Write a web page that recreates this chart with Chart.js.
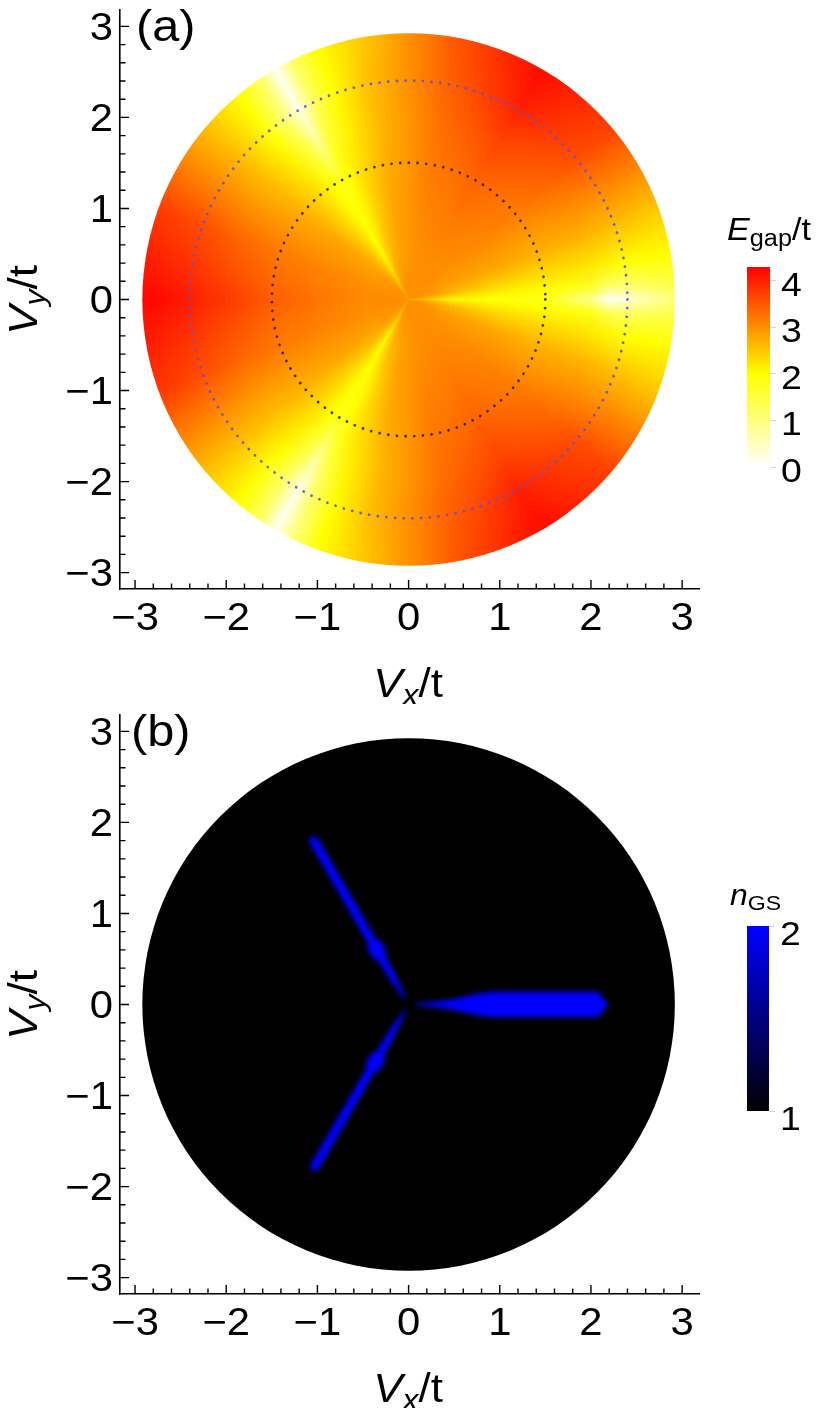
<!DOCTYPE html>
<html>
<head>
<meta charset="utf-8">
<script src="https://cdn.jsdelivr.net/npm/chart.js@4.4.1/dist/chart.umd.min.js"></script>
<style>
  html, body { margin: 0; padding: 0; background: #fff; }
  #page { position: relative; width: 830px; height: 1408px; overflow: hidden; }
  canvas { position: absolute; }
</style>
</head>
<body>
<div id="page">
  <canvas id="gapChart" width="830" height="704" style="left:0;top:0"></canvas>
  <canvas id="gapBar" width="130" height="290" style="left:700px;top:200px"></canvas>
  <canvas id="nChart" width="830" height="704" style="left:0;top:705px"></canvas>
  <canvas id="nBar" width="130" height="260" style="left:700px;top:870px"></canvas>
</div>
<script>
// 축 범위와 눈금
const axisTicks = [-3, -2, -1, 0, 1, 2, 3];
const xRange = [-3.165, 3.185];
const yRange = [-3.18, 3.18];
const minorStep = 0.2;
const diskRadius = 2.92;

// (a) 점선 원 반지름
const innerCircleRadius = 1.5;
const outerCircleRadius = 2.4;

// (a) E_gap/t 샘플 (각도는 도, +x축에서 반시계)
const gapAngles = [0, 4, 10, 20, 40, 60, 80, 100, 110, 116, 120, 124, 130, 140, 160, 180, 200, 220, 230, 236, 240, 244, 250, 260, 280, 300, 320, 340, 350, 356];
const gapRadii = [0.1, 0.5, 1.0, 1.5, 2.0, 2.2, 2.4, 2.85];
const gapR0_1 = [2.6, 2.85, 2.95, 3.0, 3.0, 3.0, 3.0, 3.0, 2.95, 2.85, 2.6, 2.85, 2.95, 3.0, 3.0, 3.05, 3.0, 3.0, 2.95, 2.85, 2.6, 2.85, 2.95, 3.0, 3.0, 3.0, 3.0, 3.0, 2.95, 2.85];
const gapR0_5 = [2.0, 2.35, 2.65, 2.85, 3.0, 3.05, 3.0, 2.85, 2.65, 2.35, 2.05, 2.35, 2.65, 2.85, 3.0, 3.05, 3.0, 2.85, 2.65, 2.35, 2.05, 2.35, 2.65, 2.85, 3.0, 3.05, 3.0, 2.85, 2.65, 2.35];
const gapR1_0 = [1.95, 2.1, 2.4, 2.8, 3.1, 3.2, 3.1, 2.8, 2.4, 2.1, 2.0, 2.1, 2.4, 2.8, 3.1, 3.25, 3.1, 2.8, 2.4, 2.1, 2.0, 2.1, 2.4, 2.8, 3.1, 3.2, 3.1, 2.8, 2.4, 2.1];
const gapR1_5 = [1.8, 2.0, 2.3, 2.7, 3.2, 3.4, 3.2, 2.7, 2.3, 2.0, 1.8, 2.0, 2.3, 2.7, 3.2, 3.45, 3.2, 2.7, 2.3, 2.0, 1.8, 2.0, 2.3, 2.7, 3.2, 3.4, 3.2, 2.7, 2.3, 2.0];
const gapR2_0 = [0.9, 1.7, 2.2, 2.7, 3.4, 3.7, 3.3, 2.6, 2.1, 1.6, 0.8, 1.5, 2.1, 2.6, 3.4, 3.8, 3.4, 2.6, 2.1, 1.5, 0.8, 1.5, 2.1, 2.6, 3.3, 3.7, 3.4, 2.7, 2.2, 1.8];
const gapR2_2 = [0.05, 1.2, 2.1, 2.65, 3.5, 3.85, 3.35, 2.6, 2.05, 1.4, 0.5, 1.3, 2.0, 2.6, 3.5, 3.9, 3.5, 2.6, 2.0, 1.3, 0.5, 1.3, 2.05, 2.6, 3.35, 3.85, 3.5, 2.65, 2.1, 1.4];
const gapR2_4 = [0.35, 1.2, 2.0, 2.6, 3.6, 4.0, 3.4, 2.6, 2.0, 1.2, 0.2, 1.0, 1.9, 2.6, 3.6, 4.05, 3.6, 2.6, 1.9, 1.1, 0.2, 1.2, 2.0, 2.6, 3.4, 4.0, 3.6, 2.6, 2.0, 1.3];
const gapR2_85 = [1.0, 1.5, 2.0, 2.5, 3.7, 4.2, 3.5, 2.5, 2.0, 1.2, 0.1, 1.2, 2.0, 2.6, 3.75, 4.25, 3.8, 2.6, 2.0, 1.2, 0.1, 1.0, 2.0, 2.5, 3.5, 4.2, 3.7, 2.5, 2.0, 1.5];
const gapRings = [gapR0_1, gapR0_5, gapR1_0, gapR1_5, gapR2_0, gapR2_2, gapR2_4, gapR2_85];

// (a) 컬러바
const gapBarRange = [0, 4.3];
const gapBarTicks = [0, 1, 2, 3, 4];
const gapBarStops = [0, 2, 4.3];

// (b) n_GS: 바탕값, 가지값, 가지 모양 (반지름 / 반폭)
const nBackground = 1;
const nRayValue = 2;
const rayAngles = [0, 120, 240];
const ray0R = [0.08, 0.3, 0.5, 0.65, 0.8, 0.95, 2.08, 2.19];
const ray0W = [0.01, 0.03, 0.06, 0.095, 0.125, 0.14, 0.14, 0.0];
const ray120R = [0.07, 0.3, 0.6, 0.64, 0.76, 0.8, 2.06, 2.12];
const ray120W = [0.01, 0.035, 0.048, 0.085, 0.085, 0.048, 0.05, 0.04];
const ray240R = [0.07, 0.3, 0.63, 0.67, 0.79, 0.83, 2.04, 2.1];
const ray240W = [0.01, 0.035, 0.048, 0.085, 0.085, 0.048, 0.05, 0.04];

// (b) 컬러바
const nBarRange = [1, 2];
const nBarTicks = [1, 2];

const FONT = '"Liberation Sans", Arial, sans-serif';
const STRETCH = 1.1;   // 원본 글자가 약간 가로로 넓음
Chart.defaults.font.family = FONT;
Chart.defaults.color = '#000';

// 색 함수
function gapColor(v) {
  if (v <= 2) {
    const k = Math.max(0, v) / 2;
    return 'rgb(255,255,' + Math.round(255 * (1 - k)) + ')';
  }
  const k = Math.min(1, (v - 2) / 2.3);
  return 'rgb(255,' + Math.round(255 * (1 - k)) + ',0)';
}
function nColor(v) {
  const k = Math.max(0, Math.min(1, v - 1));
  return 'rgb(0,0,' + Math.round(255 * k) + ')';
}

function tickText(v) {
  return v < 0 ? '\u2212' + Math.abs(v) : String(v);
}

// 가로로 늘린 글자
function wideText(ctx, parts, x, y, align, angle) {
  ctx.save();
  ctx.translate(x, y);
  if (angle) ctx.rotate(angle);
  ctx.scale(STRETCH, 1);
  ctx.fillStyle = '#000';
  ctx.textBaseline = 'alphabetic';
  ctx.textAlign = 'left';
  let total = 0;
  parts.forEach(p => { ctx.font = p.font; p.w = ctx.measureText(p.text).width; total += p.w; });
  let x0 = align === 'center' ? -total / 2 : align === 'right' ? -total : 0;
  parts.forEach(p => { ctx.font = p.font; ctx.fillText(p.text, x0, p.dy || 0); x0 += p.w; });
  ctx.restore();
}

// 축 크기 고정
function pinScale(size) {
  return function (scale) {
    if (scale.isHorizontal()) scale.height = size; else scale.width = size;
    scale.paddingTop = scale.paddingBottom = scale.paddingLeft = scale.paddingRight = 0;
  };
}
function setTicks(list) {
  return function (scale) { scale.ticks = list.map(v => ({ value: v })); };
}

function mainScales() {
  return {
    x: {
      type: 'linear', min: xRange[0], max: xRange[1],
      afterBuildTicks: setTicks(axisTicks), afterFit: pinScale(115),
      grid: { display: false, drawTicks: false },
      border: { display: true, color: '#000', width: 1.6 },
      ticks: { display: false }
    },
    y: {
      type: 'linear', min: yRange[0], max: yRange[1],
      afterBuildTicks: setTicks(axisTicks), afterFit: pinScale(120),
      grid: { display: false, drawTicks: false },
      border: { display: true, color: '#000', width: 1.6 },
      ticks: { display: false }
    }
  };
}

function centerOf(chart) {
  const { x, y } = chart.scales;
  const cx = x.getPixelForValue(0), cy = y.getPixelForValue(0);
  return { cx, cy, unit: x.getPixelForValue(1) - cx };
}

function fillDisk(ctx, cx, cy, r, style) {
  ctx.fillStyle = style;
  ctx.beginPath();
  ctx.arc(cx, cy, r, 0, Math.PI * 2);
  ctx.fill();
}

// 한 고리의 각도 방향 그라디언트
function ringGradient(ctx, cx, cy, values) {
  const g = ctx.createConicGradient(0, cx, cy);
  const stops = gapAngles.map((a, i) => ({ off: ((360 - a) % 360) / 360, v: values[i] }));
  stops.push({ off: 1, v: values[0] });
  stops.sort((p, q) => p.off - q.off);
  stops.forEach(s => g.addColorStop(s.off, gapColor(s.v)));
  return g;
}

// 안쪽 눈금과 눈금 글자 (Mathematica 프레임 스타일)
const frameTicks = {
  id: 'frameTicks',
  afterDraw(chart) {
    const { ctx, chartArea: a, scales: { x, y } } = chart;
    ctx.save();
    ctx.strokeStyle = '#000';
    ctx.lineWidth = 1.4;
    const n = Math.round(3 / minorStep);
    for (let k = -n; k <= n; k++) {
      const v = k * minorStep;
      const len = k % 5 === 0 ? 9 : 5.5;
      const px = x.getPixelForValue(v), py = y.getPixelForValue(v);
      ctx.beginPath();
      ctx.moveTo(px, a.bottom); ctx.lineTo(px, a.bottom - len);
      ctx.moveTo(a.left, py); ctx.lineTo(a.left + len, py);
      ctx.stroke();
    }
    ctx.restore();
    const f = '38px ' + FONT;
    x.ticks.forEach(t => {
      wideText(ctx, [{ text: tickText(t.value), font: f }], x.getPixelForValue(t.value), a.bottom + 41, 'center');
    });
    y.ticks.forEach(t => {
      wideText(ctx, [{ text: tickText(t.value), font: f }], a.left - 7, y.getPixelForValue(t.value) + 13.5, 'right');
    });
  }
};

function vTitle(sub) {
  return [
    { text: 'V', font: 'italic 40px ' + FONT },
    { text: sub, font: 'italic 29px ' + FONT, dy: 8 },
    { text: '/t', font: '40px ' + FONT }
  ];
}

function labelsPlugin(panel, labelX) {
  return {
    id: 'labels',
    afterDraw(chart) {
      const ctx = chart.ctx;
      wideText(ctx, vTitle('x'), 408, 697, 'center');
      wideText(ctx, vTitle('y'), 37, 300, 'center', -Math.PI / 2);
      ctx.save();
      ctx.translate(labelX, 41);
      ctx.scale(1.08, 1);
      ctx.fillStyle = '#000';
      ctx.font = '45px ' + FONT;
      ctx.textBaseline = 'alphabetic';
      ctx.fillText(panel, 0, 0);
      ctx.restore();
    }
  };
}

// (a) 밀도 그림
const gapField = {
  id: 'gapField',
  beforeDatasetsDraw(chart) {
    const { ctx } = chart;
    const { cx, cy, unit } = centerOf(chart);
    const off = document.createElement('canvas');
    off.width = chart.width; off.height = chart.height;
    const octx = off.getContext('2d');
    const n = gapRadii.length;
    ctx.save();
    fillDisk(ctx, cx, cy, diskRadius * unit, ringGradient(ctx, cx, cy, gapRings[n - 1]));
    for (let i = n - 2; i >= 0; i--) {
      const r0 = gapRadii[i] * unit, r1 = gapRadii[i + 1] * unit;
      fillDisk(ctx, cx, cy, r1, ringGradient(ctx, cx, cy, gapRings[i]));
      octx.globalCompositeOperation = 'source-over';
      octx.clearRect(0, 0, off.width, off.height);
      fillDisk(octx, cx, cy, r1, ringGradient(octx, cx, cy, gapRings[i + 1]));
      octx.globalCompositeOperation = 'destination-in';
      const rg = octx.createRadialGradient(cx, cy, r0, cx, cy, r1);
      rg.addColorStop(0, 'rgba(0,0,0,0)');
      rg.addColorStop(1, 'rgba(0,0,0,1)');
      octx.fillStyle = rg;
      octx.fillRect(0, 0, off.width, off.height);
      ctx.drawImage(off, 0, 0);
    }
    fillDisk(ctx, cx, cy, gapRadii[0] * unit, ringGradient(ctx, cx, cy, gapRings[0]));

    // 점선 원
    ctx.lineCap = 'round';
    ctx.lineWidth = 2.8;
    ctx.setLineDash([0.01, 8.7]);
    ctx.strokeStyle = 'rgba(35,35,35,0.9)';
    ctx.beginPath(); ctx.arc(cx, cy, innerCircleRadius * unit, 0, Math.PI * 2); ctx.stroke();
    ctx.strokeStyle = 'rgba(85,85,225,0.9)';
    ctx.beginPath(); ctx.arc(cx, cy, outerCircleRadius * unit, 0, Math.PI * 2); ctx.stroke();
    ctx.restore();
  }
};

// (b) 바탕 원판 + 세 가지
const nField = {
  id: 'nField',
  beforeDatasetsDraw(chart) {
    const { ctx, scales: { x, y } } = chart;
    const { cx, cy, unit } = centerOf(chart);
    const rays = [[ray0R, ray0W], [ray120R, ray120W], [ray240R, ray240W]];
    ctx.save();
    fillDisk(ctx, cx, cy, diskRadius * unit, nColor(nBackground));
    ctx.filter = 'blur(2.4px)';
    ctx.fillStyle = nColor(nRayValue);
    rays.forEach(([rs, ws], j) => {
      const t = rayAngles[j] * Math.PI / 180, c = Math.cos(t), s = Math.sin(t);
      ctx.beginPath();
      rs.forEach((r, k) => {
        const px = x.getPixelForValue(r * c - ws[k] * s), py = y.getPixelForValue(r * s + ws[k] * c);
        if (k === 0) ctx.moveTo(px, py); else ctx.lineTo(px, py);
      });
      for (let k = rs.length - 1; k >= 0; k--) {
        ctx.lineTo(x.getPixelForValue(rs[k] * c + ws[k] * s), y.getPixelForValue(rs[k] * s - ws[k] * c));
      }
      ctx.closePath();
      ctx.fill();
    });
    ctx.restore();
  }
};

function mainOptions() {
  return {
    responsive: false,
    animation: false,
    events: [],
    layout: { padding: { top: 10, right: 131, left: 0, bottom: 0 } },
    plugins: { legend: { display: false }, tooltip: { enabled: false } },
    scales: mainScales()
  };
}

const gapChart = new Chart(document.getElementById('gapChart'), {
  type: 'scatter',
  data: { datasets: [] },
  options: mainOptions(),
  plugins: [gapField, frameTicks, labelsPlugin('(a)', 136)]
});

const nChart = new Chart(document.getElementById('nChart'), {
  type: 'scatter',
  data: { datasets: [] },
  options: mainOptions(),
  plugins: [nField, frameTicks, labelsPlugin('(b)', 131)]
});

// 컬러바
function colorBar(canvasId, range, ticks, stops, colorFn, pad, axisWidth, labelDy, title) {
  return new Chart(document.getElementById(canvasId), {
    type: 'bar',
    data: {
      labels: [''],
      datasets: [{
        data: [range],
        barPercentage: 1,
        categoryPercentage: 1,
        borderWidth: 0,
        backgroundColor(c) {
          const chart = c.chart;
          if (!chart.chartArea) return null;
          const sy = chart.scales.y;
          const g = chart.ctx.createLinearGradient(0, sy.getPixelForValue(range[0]), 0, sy.getPixelForValue(range[1]));
          stops.forEach(v => g.addColorStop((v - range[0]) / (range[1] - range[0]), colorFn(v)));
          return g;
        }
      }]
    },
    options: {
      responsive: false,
      animation: false,
      events: [],
      layout: { padding: pad },
      plugins: { legend: { display: false }, tooltip: { enabled: false } },
      scales: {
        x: { display: false },
        y: {
          position: 'right', min: range[0], max: range[1],
          afterBuildTicks: setTicks(ticks), afterFit: pinScale(axisWidth),
          grid: { display: true, drawOnChartArea: false, drawTicks: true, tickLength: 6, color: '#d4d4d4' },
          border: { display: false },
          ticks: { display: false }
        }
      }
    },
    plugins: [{
      id: 'barText',
      afterDraw(chart) {
        const a = chart.chartArea, sy = chart.scales.y;
        sy.ticks.forEach(t => {
          wideText(chart.ctx, [{ text: String(t.value), font: '34px ' + FONT }], a.right + 11, sy.getPixelForValue(t.value) + 12 + labelDy, 'left');
        });
        title(chart.ctx, a);
      }
    }]
  });
}

const gapBar = colorBar('gapBar', gapBarRange, gapBarTicks, gapBarStops, gapColor,
  { left: 47, top: 67, bottom: 23, right: 0 }, 60, 3,
  function (ctx, a) {
    wideText(ctx, [
      { text: 'E', font: 'italic 31px ' + FONT },
      { text: 'gap', font: '23px ' + FONT, dy: 6 },
      { text: '/t', font: '31px ' + FONT }
    ], a.left - 20, a.top - 27, 'left');
  });

const nBar = colorBar('nBar', nBarRange, nBarTicks, [1, 2], nColor,
  { left: 47, top: 56, bottom: 19, right: 0 }, 61, 7,
  function (ctx, a) {
    wideText(ctx, [
      { text: 'n', font: 'italic 29px ' + FONT },
      { text: 'GS', font: '21px ' + FONT, dy: 5 }
    ], a.left - 17, a.top - 21, 'left');
  });
</script>
</body>
</html>
